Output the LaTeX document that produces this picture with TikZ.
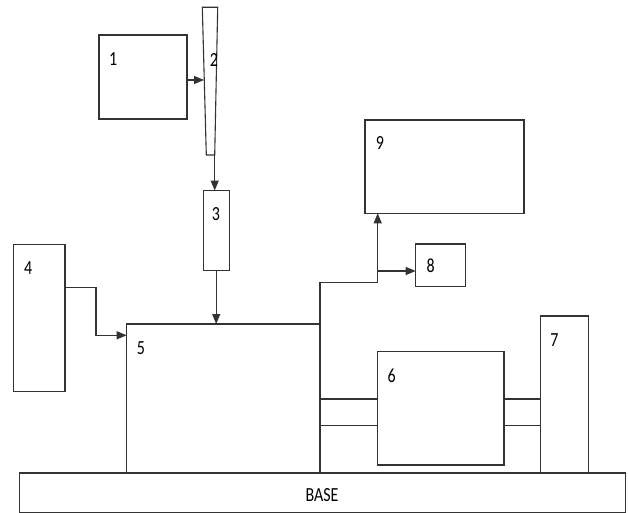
\documentclass[tikz,border=0pt]{standalone}
\usepackage{fontspec}
\usepackage{graphicx}
\setmainfont{Carlito}
\usetikzlibrary{arrows.meta,calc}
\newcommand{\tallt}[1]{\scalebox{1}[1.25]{#1}}
\begin{document}
\begin{tikzpicture}[x=1pt,y=-1pt,
  box/.style={draw=black!80,line width=1.1pt,rectangle,inner sep=0pt,outer sep=0pt},
  lbl/.style={inner sep=0pt,text=black,font=\fontsize{16}{16}\selectfont},
  conn/.style={draw=black!80,line width=1.1pt},
  arr/.style={conn,-{Triangle[length=10pt,width=8pt]}}]
\useasboundingbox (0,0) rectangle (628,513);
% boxes
\node[box,minimum width=88pt,minimum height=84pt] (b1) at (143,77) {};
\node[box,minimum width=26.3pt,minimum height=79.8pt] (b3) at (216.2,230.4) {};
\node[box,minimum width=51.3pt,minimum height=147.4pt] (b4) at (39.35,318) {};
\node[box,minimum width=193.3pt,minimum height=149pt] (b5) at (223.35,398.5) {};
\node[box,minimum width=126.7pt,minimum height=113.3pt] (b6) at (440.65,408.35) {};
\node[box,minimum width=47.6pt,minimum height=157pt] (b7) at (564.5,394.5) {};
\node[box,minimum width=50pt,minimum height=42.7pt] (b8) at (440.7,265.35) {};
\node[box,minimum width=159pt,minimum height=93.3pt] (b9) at (444.5,166.65) {};
\node[box,minimum width=605.6pt,minimum height=39.3pt] (base) at (322.5,492.65) {};
% tapered element 2
\coordinate (t2a) at (202.3,7.3);
\coordinate (t2b) at (217.7,7.3);
\coordinate (t2c) at (214.7,155);
\coordinate (t2d) at (206.3,155);
\draw[conn,line join=miter] (t2a) -- (t2b) -- (t2c) -- (t2d) -- cycle;
% labels
\node[lbl] (l1) at (113.3,59.2) {\tallt{1}};
\node[lbl] (l2) at (214,60) {\tallt{2}};
\node[lbl] (l3) at (216,214) {\tallt{3}};
\node[lbl] (l4) at (28.2,268.2) {\tallt{4}};
\node[lbl] (l5) at (141,347.8) {\tallt{5}};
\node[lbl] (l6) at (391.7,376) {\tallt{6}};
\node[lbl] (l7) at (554.5,339.7) {\tallt{7}};
\node[lbl] (l8) at (430.7,265.7) {\tallt{8}};
\node[lbl] (l9) at (380,143.3) {\tallt{9}};
\node[lbl] (lb) at (322,495) {\tallt{BASE}};
% connectors
\coordinate (a12) at (204,80);
\draw[arr] (b1.east |- a12) -- (a12);
\draw[arr] (t2c) -- (t2c |- b3.north);
\draw[arr] (b3.south) -- (b3.south |- b5.north);
\coordinate (k4) at (96,287.3);
\coordinate (e5) at (126.7,335.3);
\draw[arr] (b4.east |- k4) -- (k4) |- (e5);
\coordinate (j1) at (377.7,282.3);
\draw[conn] (b5.north east) -- (b5.north east |- j1) -- (j1);
\draw[arr] (j1) -- (j1 |- b9.south);
\coordinate (j2) at (377.7,271);
\draw[arr] (j2) -- (j2 -| b8.west);
% shafts
\coordinate (s1) at (0,399);
\coordinate (s2) at (0,425.3);
\draw[conn] (b5.east |- s1) -- (b6.west |- s1);
\draw[conn] (b5.east |- s2) -- (b6.west |- s2);
\draw[conn] (b6.east |- s1) -- (b7.west |- s1);
\draw[conn] (b6.east |- s2) -- (b7.west |- s2);
\end{tikzpicture}
\end{document}
